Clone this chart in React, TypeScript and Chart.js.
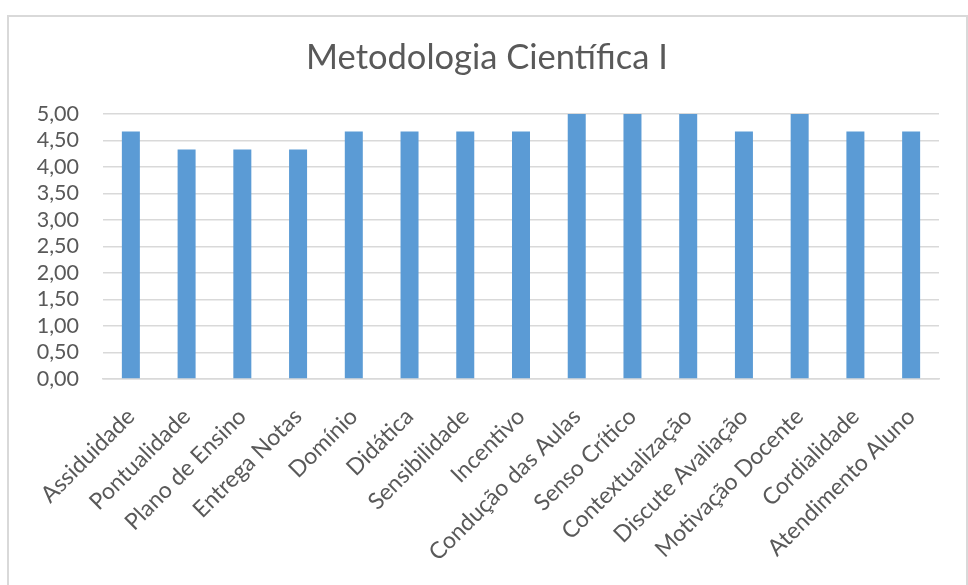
import React, { useEffect, useRef } from "react";
import { Chart, registerables } from "chart.js";

Chart.register(...registerables);

const TITLE = "Metodologia Científica I";
const categories = [
  "Assiduidade",
  "Pontualidade",
  "Plano de Ensino",
  "Entrega Notas",
  "Domínio",
  "Didática",
  "Sensibilidade",
  "Incentivo",
  "Condução das Aulas",
  "Senso Crítico",
  "Contextualização",
  "Discute Avaliação",
  "Motivação Docente",
  "Cordialidade",
  "Atendimento Aluno",
];
const values = [4.67, 4.33, 4.33, 4.33, 4.67, 4.67, 4.67, 4.67, 5, 5, 5, 4.67, 5, 4.67, 4.67];
const yMin = 0;
const yMax = 5;
const yStep = 0.5;

const FONT = "Lato, 'Open Sans', sans-serif";
const TEXT = "#595959";
const GRID = "#d9d9d9";

export default function App() {
  const ref = useRef<HTMLCanvasElement | null>(null);

  useEffect(() => {
    if (!ref.current) return;
    const chart = new Chart(ref.current, {
      type: "bar",
      data: {
        labels: categories,
        datasets: [
          {
            data: values,
            backgroundColor: "#5B9BD5",
            borderWidth: 0,
            categoryPercentage: 1,
            barPercentage: 0.323,
          },
        ],
      },
      options: {
        animation: false,
        responsive: false,
        maintainAspectRatio: false,
        layout: { padding: { left: 35, right: 29, top: 0, bottom: 0 } },
        plugins: {
          legend: { display: false },
          tooltip: { enabled: false },
          title: {
            display: true,
            text: TITLE,
            color: TEXT,
            font: { family: FONT, size: 34.5, weight: "normal", lineHeight: 1.2 },
            padding: { top: 37, bottom: 35.6 },
          },
        },
        scales: {
          x: {
            grid: { display: false, drawTicks: false },
            border: { display: true, color: GRID, width: 1.5 },
            ticks: {
              color: TEXT,
              font: { family: FONT, size: 23 },
              minRotation: 45,
              maxRotation: 45,
              autoSkip: false,
              padding: 24,
            },
            afterFit: (scale: any) => {
              scale.height = 206;
            },
          },
          y: {
            min: yMin,
            max: yMax,
            grid: { color: GRID, lineWidth: 1.5, drawTicks: false },
            border: { display: false },
            ticks: {
              stepSize: yStep,
              autoSkip: false,
              color: TEXT,
              font: { family: FONT, size: 21.5 },
              padding: 24,
              callback: (v: any) => Number(v).toFixed(2).replace(".", ","),
            },
            afterFit: (scale: any) => {
              scale.width = 68;
            },
          },
        },
      },
    });
    return () => chart.destroy();
  }, []);

  return (
    <div
      style={{
        position: "fixed",
        left: 0,
        top: 0,
        width: 968,
        height: 585,
        overflow: "hidden",
        background: "#fff",
      }}
    >
      <div
        style={{
          position: "absolute",
          left: 7,
          top: 15,
          width: 961,
          height: 620,
          boxSizing: "border-box",
          border: "2px solid #d9d9d9",
        }}
      />
      <canvas
        ref={ref}
        width={968}
        height={585}
        style={{ position: "absolute", left: 0, top: 0, width: 968, height: 585 }}
      />
    </div>
  );
}
